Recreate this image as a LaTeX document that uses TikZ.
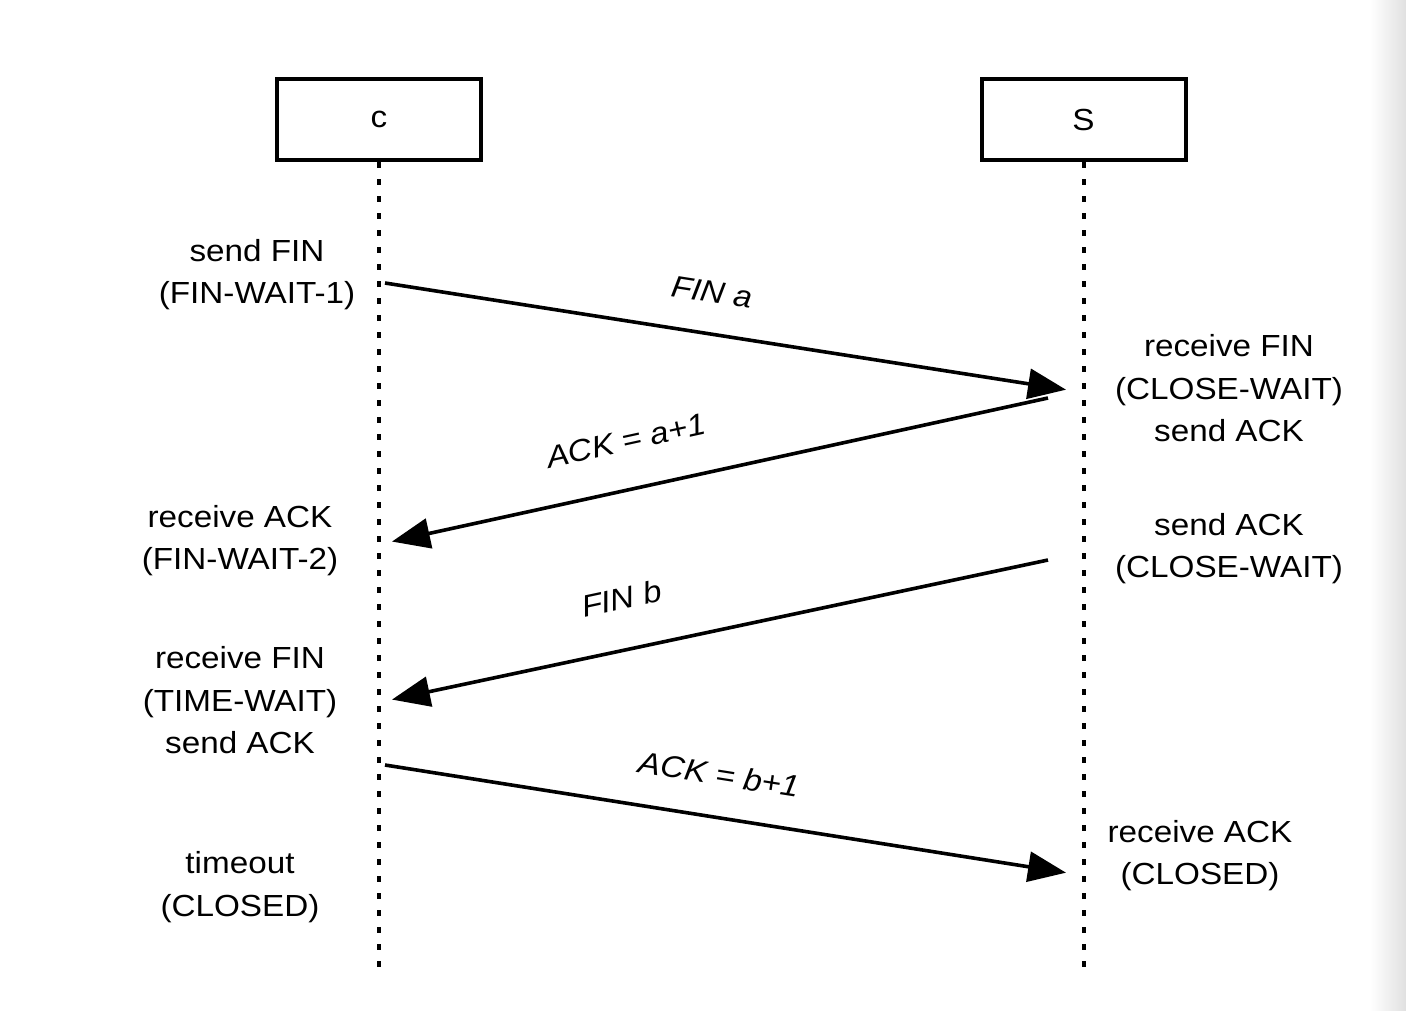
\documentclass[tikz,border=0pt]{standalone}
\usepackage{fontspec}
\setmainfont[FakeStretch=1.09]{Liberation Sans}
\usetikzlibrary{arrows.meta}

\begin{document}
\begin{tikzpicture}[
  x=1pt, y=-1pt,
  every node/.style={font=\fontsize{30.5}{42.5}\selectfont},
  party/.style={draw, line width=4pt, minimum width=204pt, minimum height=81pt, inner sep=0pt},
  lifeline/.style={line width=4pt, dash pattern=on 6pt off 11pt},
  msg/.style={line width=3.6pt, -{Triangle[length=38pt, width=30pt]}, shorten >=2pt},
  msglabel/.style={sloped, inner sep=0pt, font=\fontsize{30.5}{42.5}\selectfont\itshape},
  state/.style={align=center, inner sep=0pt}
]
\useasboundingbox (0,0) rectangle (1406,1010);
\shade[left color=white, right color=black!12] (1370,0) rectangle (1406,1010);

% the two parties
\node[party] (c) at (379,119.5) {c};
\node[party] (s) at (1083.5,119.5) {S};

% lifelines
\coordinate (cend) at (379,970);
\coordinate (send) at (1083.5,970);
\draw[lifeline] (c.south) -- (cend);
\draw[lifeline] (s.south) -- (send);

% message end points
\coordinate (c1) at (385,283);
\coordinate (s1) at (1068,390);
\coordinate (s2) at (1048,398);
\coordinate (c2) at (390,542);
\coordinate (s3) at (1048,560);
\coordinate (c3) at (390,700);
\coordinate (c4) at (385,765);
\coordinate (s4) at (1068,873);

% messages
\draw[msg] (c1) -- node[msglabel, pos=0.47, above=29pt] {FIN a} (s1);
\draw[msg] (s2) -- node[msglabel, pos=0.625, above=36pt] {ACK = a+1} (c2);
\draw[msg] (s3) -- node[msglabel, pos=0.632, above=38pt] {FIN b} (c3);
\draw[msg] (c4) -- node[msglabel, pos=0.48, above=30pt] {ACK = b+1} (s4);

% states of c
\node[state] (cst1) at (257,274.5) {send FIN\\(FIN-WAIT-1)};
\node[state] (cst2) at (240,540.5) {receive ACK\\(FIN-WAIT-2)};
\node[state] (cst3) at (240,700.5) {receive FIN\\(TIME-WAIT)\\send ACK};
\node[state] (cst4) at (240,887) {timeout\\(CLOSED)};

% states of S
\node[state] (sst1) at (1229,388.5) {receive FIN\\(CLOSE-WAIT)\\send ACK};
\node[state] (sst2) at (1229,548.5) {send ACK\\(CLOSE-WAIT)};
\node[state] (sst3) at (1200,855.5) {receive ACK\\(CLOSED)};
\end{tikzpicture}
\end{document}
